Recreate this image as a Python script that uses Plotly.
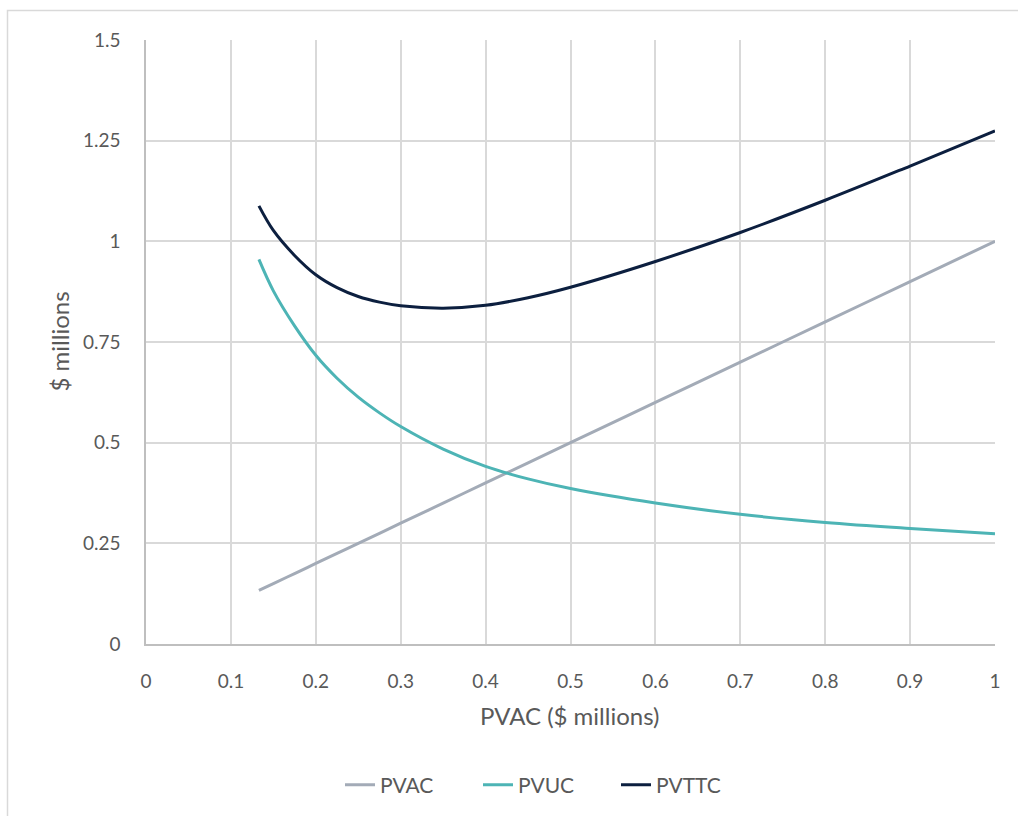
import plotly.graph_objects as go

# PVAC values on the x axis ($ millions)
pvac_x = [0.133, 0.15, 0.175, 0.2, 0.225, 0.25, 0.275, 0.3, 0.35, 0.4, 0.45, 0.5, 0.6, 0.7, 0.8, 0.9, 1.0]
# Series values ($ millions)
pvac = [0.133, 0.15, 0.175, 0.2, 0.225, 0.25, 0.275, 0.3, 0.35, 0.4, 0.45, 0.5, 0.6, 0.7, 0.8, 0.9, 1.0]
pvuc = [0.955, 0.877, 0.790, 0.717, 0.660, 0.613, 0.574, 0.540, 0.484, 0.441, 0.410, 0.386, 0.350, 0.322, 0.302, 0.287, 0.274]
pvttc = [1.088, 1.027, 0.965, 0.917, 0.885, 0.863, 0.849, 0.840, 0.834, 0.841, 0.860, 0.886, 0.950, 1.022, 1.102, 1.187, 1.274]

x_ticks = [0, 0.1, 0.2, 0.3, 0.4, 0.5, 0.6, 0.7, 0.8, 0.9, 1]
x_tick_labels = ["0", "0.1", "0.2", "0.3", "0.4", "0.5", "0.6", "0.7", "0.8", "0.9", "1"]
y_ticks = [0, 0.25, 0.5, 0.75, 1, 1.25, 1.5]
y_tick_labels = ["0", "0.25", "0.5", "0.75", "1", "1.25", "1.5"]

FONT = "Lato, 'Open Sans', sans-serif"
TEXT = "#595959"
GRID = "#d9d9d9"

fig = go.Figure()
series = [
    ("PVAC", pvac, "#a3abb7"),
    ("PVUC", pvuc, "#4db4b5"),
    ("PVTTC", pvttc, "#0c1f3f"),
]
for name, vals, color in series:
    fig.add_trace(go.Scatter(
        x=pvac_x, y=vals, name=name, mode="lines",
        line=dict(color=color, width=3, shape="spline", smoothing=1.0),
    ))

W, H = 1018, 816
L, R, T, B = 146, 23, 40, 171
pw, ph = W - L - R, H - T - B

def px_to_paper_x(px):
    return (px - L) / pw

def px_to_paper_y(py):
    return (H - B - py) / ph

fig.update_layout(
    width=W, height=H,
    margin=dict(l=L, r=R, t=T, b=B),
    paper_bgcolor="white", plot_bgcolor="white",
    font=dict(family=FONT, size=19, color=TEXT),
    showlegend=True,
    legend=dict(
        orientation="h",
        x=px_to_paper_x(340), y=px_to_paper_y(785),
        xanchor="left", yanchor="middle",
        font=dict(family=FONT, size=21, color=TEXT),
        entrywidth=93, entrywidthmode="pixels",
        tracegroupgap=0,
    ),
    xaxis=dict(
        range=[0, 1], tickvals=x_ticks, ticktext=x_tick_labels,
        showgrid=True, gridcolor=GRID, gridwidth=1.5,
        showline=True, linecolor="#bfbfbf", linewidth=1.5,
        zeroline=False, ticks="", ticklabelstandoff=19,
        tickfont=dict(family=FONT, size=19, color=TEXT),
    ),
    yaxis=dict(
        range=[0, 1.5], tickvals=y_ticks, ticktext=y_tick_labels,
        showgrid=True, gridcolor=GRID, gridwidth=1.5,
        showline=True, linecolor="#bfbfbf", linewidth=1.5,
        zeroline=False, ticks="", ticklabelstandoff=20,
        tickfont=dict(family=FONT, size=19, color=TEXT),
    ),
    annotations=[
        dict(text="PVAC ($ millions)", xref="paper", yref="paper",
             x=px_to_paper_x(570), y=px_to_paper_y(717),
             xanchor="center", yanchor="middle", showarrow=False,
             font=dict(family=FONT, size=24, color=TEXT)),
        dict(text="$ millions", xref="paper", yref="paper",
             x=px_to_paper_x(60), y=px_to_paper_y(342),
             xanchor="center", yanchor="middle", showarrow=False, textangle=-90,
             font=dict(family=FONT, size=24, color=TEXT)),
    ],
    shapes=[
        dict(type="rect", xref="paper", yref="paper", layer="below",
             x0=px_to_paper_x(7.5), x1=px_to_paper_x(1030),
             y0=px_to_paper_y(830), y1=px_to_paper_y(10.5),
             line=dict(color=GRID, width=1.5), fillcolor="rgba(0,0,0,0)"),
    ],
)

fig.write_html("out.html")
